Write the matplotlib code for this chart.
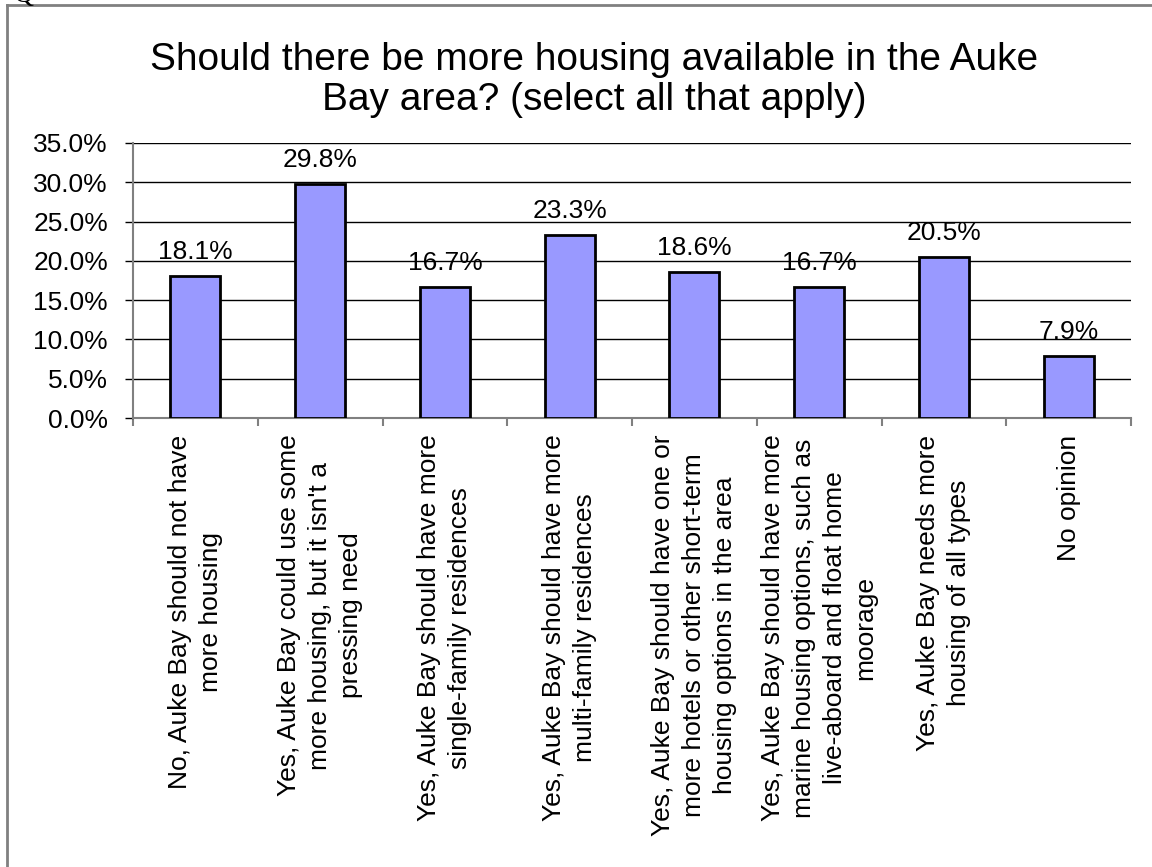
import numpy as np
import matplotlib
matplotlib.use("Agg")
import matplotlib.pyplot as plt
from matplotlib.lines import Line2D

plt.rcParams['font.family'] = ['Liberation Sans', 'DejaVu Sans']

categories = [
    "No, Auke Bay should not have\nmore housing",
    "Yes, Auke Bay could use some\nmore housing, but it isn't a\npressing need",
    "Yes, Auke Bay should have more\nsingle-family residences",
    "Yes, Auke Bay should have more\nmulti-family residences",
    "Yes, Auke Bay should have one or\nmore hotels or other short-term\nhousing options in the area",
    "Yes, Auke Bay should have more\nmarine housing options, such as\nlive-aboard and float home\nmoorage",
    "Yes, Auke Bay needs more\nhousing of all types",
    "No opinion",
]
values = [18.1, 29.8, 16.7, 23.3, 18.6, 16.7, 20.5, 7.9]
yticks = [0, 5, 10, 15, 20, 25, 30, 35]
title = "Should there be more housing available in the Auke\nBay area? (select all that apply)"

W, H = 1152, 867
fig = plt.figure(figsize=(W / 100, H / 100), dpi=100)
ax = fig.add_axes([133 / W, 1 - 418 / H, 998 / W, 275 / H])

x = np.arange(len(values))
ax.bar(x, values, width=0.4, color='#9999FF', edgecolor='black', linewidth=2, zorder=3)
for xi, v in zip(x, values):
    ax.annotate(f"{v:.1f}%", (xi, v), xytext=(0, 8.5), textcoords='offset points',
                ha='center', va='bottom', fontsize=19)

ax.set_xlim(-0.5, len(values) - 0.5)
ax.set_ylim(0, 35)
ax.set_yticks(yticks)
ax.set_yticklabels([f"{t:.1f}%" for t in yticks], fontsize=19)
ax.grid(axis='y', color='black', linewidth=1, zorder=0)
ax.tick_params(axis='y', length=6, color='black', width=1, pad=12)

ax.set_xticks(x)
ax.set_xticklabels(categories, rotation=90, fontsize=19, va='top', ha='center',
                   multialignment='center', linespacing=1.37)
ax.set_xticks(np.arange(-0.5, len(values)), minor=True)
ax.tick_params(axis='x', which='major', length=0, pad=12)
ax.tick_params(axis='x', which='minor', length=6, color='#808080', width=1.5)

for s in ['top', 'right']:
    ax.spines[s].set_visible(False)
for s in ['left', 'bottom']:
    ax.spines[s].set_color('#808080')
    ax.spines[s].set_linewidth(1.5)

fig.text(594 / W, 1 - 42 / H, title, ha='center', va='top', fontsize=28,
         linespacing=1.15)

# cut-off letter of the question header above the chart
fig.text(14 / W, 1 - 2 / H, "Q", ha='left', va='baseline', fontsize=20,
         family='Liberation Serif')

# outer frame (left and top edges)
fig.add_artist(Line2D([7 / W, 7 / W], [0, 1 - 5 / H], color='#808080', linewidth=2,
                      transform=fig.transFigure))
fig.add_artist(Line2D([7 / W, 1], [1 - 5 / H, 1 - 5 / H], color='#808080', linewidth=2,
                      transform=fig.transFigure))

fig.savefig("out.png", dpi=100)
